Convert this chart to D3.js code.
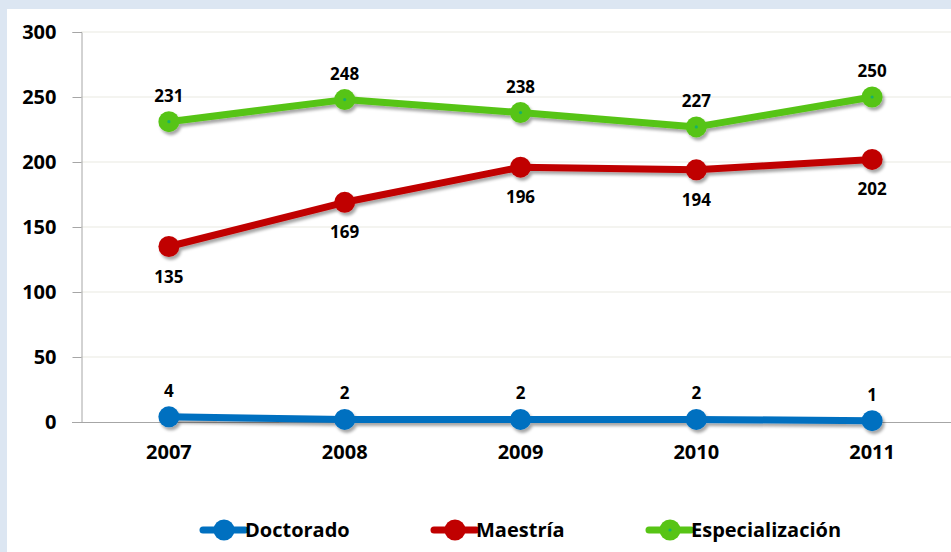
<!DOCTYPE html>
<html lang="es">
<head>
<meta charset="UTF-8">
<title>Matrícula por nivel</title>
<script src="https://d3js.org/d3.v7.min.js"></script>
<style>
  body { margin: 0; background: #dce6f2; }
  svg { display: block; }
</style>
</head>
<body>
<svg id="chart"></svg>
<script>
const years = ["2007", "2008", "2009", "2010", "2011"];
const doctorado = [4, 2, 2, 2, 1];
const maestria = [135, 169, 196, 194, 202];
const especializacion = [231, 248, 238, 227, 250];
const yTicks = [0, 50, 100, 150, 200, 250, 300];

const series = [
  { name: "Doctorado", values: doctorado, color: "#0070c0", labelPos: "above", dot: false },
  { name: "Maestría", values: maestria, color: "#c00000", labelPos: "below", dot: false },
  { name: "Especialización", values: especializacion, color: "#57c415", labelPos: "above", dot: true }
];

const width = 951, height = 552;
const font = "'Open Sans', sans-serif";

const svg = d3.select("#chart")
    .attr("width", width)
    .attr("height", height);

// drop shadow like the original
const defs = svg.append("defs");
const f = defs.append("filter").attr("id", "shadow")
    .attr("x", "-20%").attr("y", "-20%").attr("width", "140%").attr("height", "160%");
f.append("feDropShadow")
    .attr("dx", 2).attr("dy", 3).attr("stdDeviation", 1.8)
    .attr("flood-color", "#000").attr("flood-opacity", 0.35);

svg.append("rect")
    .attr("x", 0).attr("y", 0).attr("width", width).attr("height", height)
    .attr("fill", "#dce6f2");
svg.append("rect")
    .attr("x", 7).attr("y", 9).attr("width", width - 7).attr("height", height - 9)
    .attr("fill", "#ffffff");

const x = d3.scaleBand().domain(years).range([81, 960]).padding(0);
const y = d3.scaleLinear().domain([0, 300]).range([422, 32]);
const cx = d => x(d) + x.bandwidth() / 2;

// gridlines
svg.append("g")
  .selectAll("line")
  .data(yTicks.filter(t => t > 0))
  .join("line")
    .attr("x1", 81).attr("x2", width)
    .attr("y1", d => y(d)).attr("y2", d => y(d))
    .attr("stroke", "#e9e9e1").attr("stroke-width", 1);

// y axis
const yAxis = svg.append("g")
    .attr("transform", "translate(81.5,0)")
    .call(d3.axisLeft(y).tickValues(yTicks).tickSize(9).tickPadding(16));
yAxis.select(".domain").attr("stroke", "#a6a6a6");
yAxis.selectAll(".tick line").attr("stroke", "#a6a6a6");
yAxis.selectAll(".tick text")
    .attr("fill", "#000")
    .style("font-family", font).style("font-weight", 700).style("font-size", "20px");

// x axis
const xAxis = svg.append("g")
    .attr("transform", "translate(0," + (y(0) + 0.5) + ")")
    .call(d3.axisBottom(x).tickSize(0).tickPadding(22).tickSizeOuter(0));
xAxis.select(".domain").attr("stroke", "#a6a6a6").attr("d", "M72,0H" + width);
xAxis.selectAll(".tick text")
    .attr("fill", "#000")
    .style("font-family", font).style("font-weight", 700).style("font-size", "20px");

const line = d3.line().x((d, i) => cx(years[i])).y(d => y(d));

series.forEach(s => {
  const g = svg.append("g").attr("filter", "url(#shadow)");
  g.append("path")
      .datum(s.values)
      .attr("d", line)
      .attr("fill", "none")
      .attr("stroke", s.color)
      .attr("stroke-width", 7)
      .attr("stroke-linejoin", "round");
  g.selectAll("circle")
    .data(s.values)
    .join("circle")
      .attr("cx", (d, i) => cx(years[i]))
      .attr("cy", d => y(d))
      .attr("r", 10.5)
      .attr("fill", s.color);
  if (s.dot) {
    svg.append("g").selectAll("circle")
      .data(s.values)
      .join("circle")
        .attr("cx", (d, i) => cx(years[i]))
        .attr("cy", d => y(d))
        .attr("r", 1.6)
        .attr("fill", "#16b06a");
  }
  svg.append("g").selectAll("text")
    .data(s.values)
    .join("text")
      .attr("x", (d, i) => cx(years[i]))
      .attr("y", d => s.labelPos === "above" ? y(d) - 20 : y(d) + 36)
      .attr("text-anchor", "middle")
      .style("font-family", font).style("font-weight", 700).style("font-size", "17px")
      .attr("fill", "#000")
      .text(d => d);
});

// legend
const legendX = [224, 455, 670];
const legend = svg.append("g").selectAll("g")
  .data(series)
  .join("g")
    .attr("transform", (d, i) => "translate(" + legendX[i] + ",530)");
legend.append("line")
    .attr("x1", -21).attr("x2", 21)
    .attr("stroke", d => d.color).attr("stroke-width", 7).attr("stroke-linecap", "round");
legend.append("circle")
    .attr("r", 10.5).attr("fill", d => d.color);
legend.filter(d => d.dot).append("circle")
    .attr("r", 1.6).attr("fill", "#16b06a");
legend.append("text")
    .attr("x", 21)
    .attr("dy", "0.35em")
    .style("font-family", font).style("font-weight", 700).style("font-size", "20px")
    .attr("fill", "#000")
    .text(d => d.name);
</script>
</body>
</html>
